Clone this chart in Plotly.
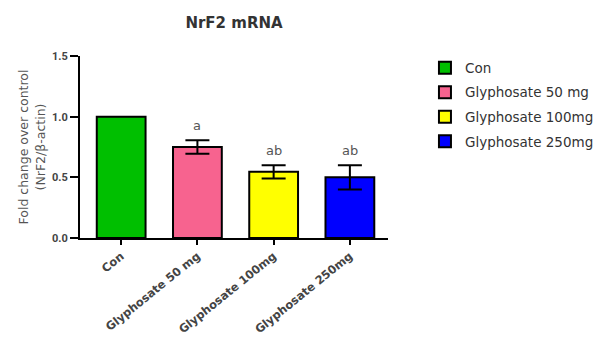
import plotly.graph_objects as go

categories = ["Con", "Glyphosate 50 mg", "Glyphosate 100mg", "Glyphosate 250mg"]
means = [1.0, 0.75, 0.545, 0.50]
sem = [None, 0.055, 0.055, 0.10]
letters = ["", "a", "ab", "ab"]
colors = ["#00BF00", "#F7638F", "#FFFF00", "#0000FF"]

fig = go.Figure()
for i, cat in enumerate(categories):
    err = dict(type="data", array=[sem[i]], visible=sem[i] is not None,
               color="black", thickness=2, width=12)
    fig.add_trace(go.Bar(
        x=[cat], y=[means[i]], name=cat, width=0.64,
        marker=dict(color=colors[i], line=dict(color="black", width=2)),
        error_y=err, legendgroup=cat,
    ))
    if letters[i]:
        fig.add_annotation(x=cat, y=means[i] + (sem[i] or 0), text=letters[i],
                           showarrow=False, yanchor="bottom", yshift=5,
                           font=dict(size=13, color="#555555", family="DejaVu Sans"))

fig.update_layout(
    width=603, height=340,
    margin=dict(l=80, r=215, t=56, b=102, autoexpand=False),
    paper_bgcolor="white", plot_bgcolor="white",
    barmode="overlay",
    font=dict(family="Roboto", color="#333333"),
    title=dict(text="NrF2 mRNA", x=0.5, xanchor="center", xref="paper",
               y=1 - 23 / 340, yanchor="middle",
               font=dict(size=15, color="#333333", family="DejaVu Sans", weight="bold")),
    xaxis=dict(range=[-0.54, 3.5], showline=True, linecolor="black", linewidth=2,
               ticks="outside", ticklen=5, tickwidth=2, tickcolor="black",
               tickangle=-39, automargin=False,
               tickfont=dict(size=11.5, color="#444444", family="DejaVu Sans", weight="bold"),
               showgrid=False, zeroline=False),
    yaxis=dict(range=[0, 1.5], tickvals=[0, 0.5, 1.0, 1.5],
               ticktext=["0.0", "0.5", "1.0", "1.5"],
               showline=True, linecolor="black", linewidth=2,
               ticks="outside", ticklen=8, tickwidth=2, tickcolor="black",
               tickfont=dict(size=11, color="#444444", weight="bold"),
               showgrid=False, zeroline=False, automargin=False,
               title=dict(text="Fold change over control<br>(NrF2/β-actin)", standoff=4,
                          font=dict(size=12.5, color="#555555", family="DejaVu Sans"))),
    legend=dict(x=1.12, xanchor="left", y=1.02, yanchor="top",
                traceorder="grouped", tracegroupgap=4, itemwidth=30,
                font=dict(size=13.5, color="#333333", family="DejaVu Sans")),
    showlegend=True,
)

fig.write_html("out.html", config={"displayModeBar": False},
               post_script="document.body.style.margin='0px';")
